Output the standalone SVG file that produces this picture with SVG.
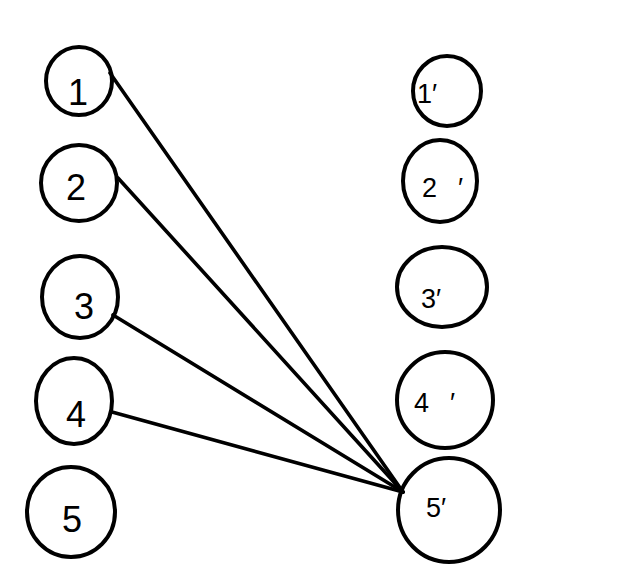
<svg xmlns="http://www.w3.org/2000/svg" width="642" height="585" viewBox="0 0 642 585">
<style>
.n{fill:none;stroke:#000;stroke-width:4}
.l{font-family:"Liberation Sans",Arial,sans-serif;font-size:36px;fill:#000;text-anchor:middle}
.r{font-family:"Liberation Sans",Arial,sans-serif;font-size:27px;fill:#000}
.e{stroke:#000;stroke-width:3.6;fill:none;stroke-linecap:round}
</style>
<rect width="642" height="585" fill="#fff"/>
<g id="connectors">
<line class="e" x1="110" y1="73" x2="403" y2="492"/>
<line class="e" x1="118" y1="178" x2="403" y2="492"/>
<line class="e" x1="113" y1="315" x2="403" y2="492"/>
<line class="e" x1="112" y1="412" x2="403" y2="492"/>
</g>
<g id="n1"><ellipse class="n" cx="79" cy="81" rx="33" ry="34"/><text class="l" x="78" y="105">1</text></g>
<g id="n2"><ellipse class="n" cx="79" cy="183" rx="38" ry="38"/><text class="l" x="76" y="200">2</text></g>
<g id="n3"><ellipse class="n" cx="80" cy="297" rx="38" ry="41"/><text class="l" x="84" y="319">3</text></g>
<g id="n4"><ellipse class="n" cx="74" cy="401" rx="38" ry="43"/><text class="l" x="76" y="427">4</text></g>
<g id="n5"><ellipse class="n" cx="71" cy="512" rx="44" ry="45"/><text class="l" x="72" y="532">5</text></g>
<g id="m1"><ellipse class="n" cx="447" cy="91" rx="34" ry="35"/><text class="r" x="417" y="103">1′</text></g>
<g id="m2"><ellipse class="n" cx="440" cy="181" rx="37" ry="41"/><text class="r" x="422" y="197">2</text><text class="r" x="458" y="197">′</text></g>
<g id="m3"><ellipse class="n" cx="442" cy="287" rx="45" ry="40"/><text class="r" x="421" y="308">3′</text></g>
<g id="m4"><ellipse class="n" cx="445" cy="400" rx="48" ry="48"/><text class="r" x="414" y="412">4</text><text class="r" x="450" y="412">′</text></g>
<g id="m5"><ellipse class="n" cx="449" cy="510" rx="51" ry="52"/><text class="r" x="426" y="517">5′</text></g>
</svg>
